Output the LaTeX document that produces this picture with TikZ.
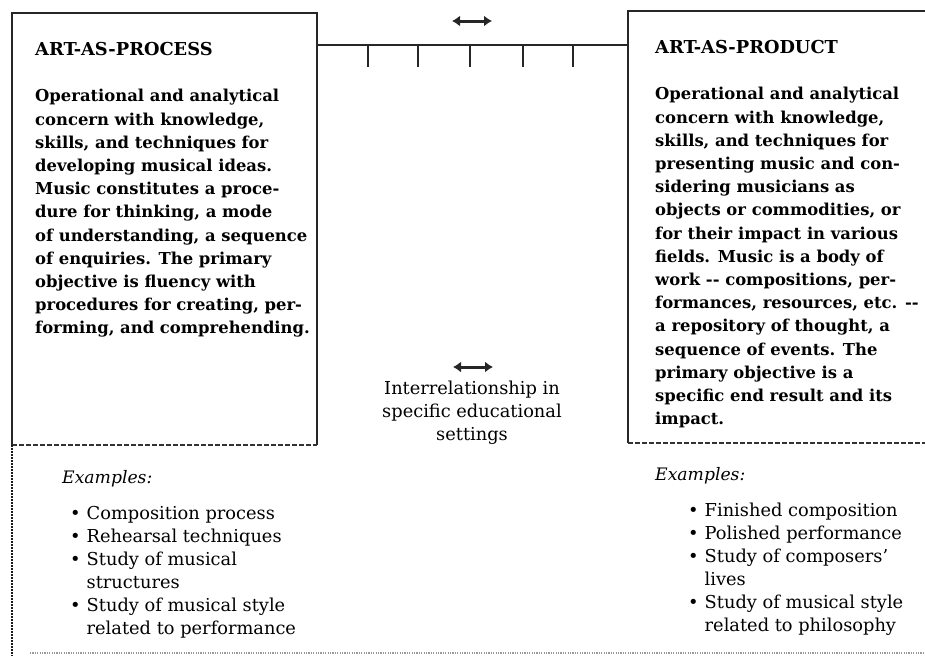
\documentclass[tikz,border=0pt]{standalone}
\usepackage{fontspec}
\setmainfont{DejaVu Serif}
\usetikzlibrary{arrows.meta}
\tikzset{
  frame/.style={line width=1.7pt, black!85},
  dashedge/.style={line width=1.5pt, black!80, dash pattern=on 5pt off 2pt},
  dotedge/.style={line width=2.2pt, black!90, dash pattern=on 1.6pt off 1.4pt},
  faintdot/.style={line width=1.4pt, black!40, dash pattern=on 1.2pt off 1.2pt},
  link/.style={line width=1.6pt, black!85},
  tick/.style={line width=1.5pt, black!85},
  twoway/.style={line width=3pt, black!85, {Latex[length=8pt,width=11pt]}-{Latex[length=8pt,width=11pt]}},
  head/.style={inner sep=0pt, anchor=base west, font=\fontsize{17.8}{23.2}\selectfont\bfseries},
  body/.style={inner sep=0pt, anchor=north west, align=left, font=\fontsize{16.4}{23.2}\selectfont\bfseries},
  plain/.style={inner sep=0pt, align=left, font=\fontsize{17.8}{23}\selectfont},
  emph/.style={inner sep=0pt, anchor=base west, font=\fontsize{17.2}{23}\selectfont\itshape},
}
\newcommand{\itm}[1]{\makebox[16.5pt][l]{\textbullet}#1}
\newcommand{\cnt}[1]{\hspace*{16.5pt}#1}
\begin{document}
\begin{tikzpicture}[x=1pt, y=-1pt]
\useasboundingbox (0,0) rectangle (925,656);

% left frame (art as process)
\coordinate (pTL) at (12,13);
\coordinate (pTR) at (317,13);
\coordinate (pBL) at (12,445);
\coordinate (pBR) at (317,445);
\draw[frame] (pBL) -- (pTL) -- (pTR) -- (pBR);
\draw[dashedge] (pBL) -- (pBR);
\coordinate (pFoot) at (12,656);
\draw[dotedge] (pBL) -- (pFoot);

% right frame (art as product), open at the right side
\coordinate (qTL) at (628,11);
\coordinate (qTR) at (925,11);
\coordinate (qBL) at (628,443);
\coordinate (qBR) at (925,443);
\draw[frame] (qTR) -- (qTL) -- (qBL);
\draw[dashedge] (qBL) -- (qBR);

% faint dotted base line
\coordinate (baseL) at (30,653);
\coordinate (baseR) at (925,653);
\draw[faintdot] (baseL) -- (baseR);

% continuum between the two frames
\coordinate (cL) at (317,45);
\coordinate (cR) at (628,45);
\draw[link] (cL) -- (cR);
\foreach \t [count=\k] in {368,418,470,523,573} {
  \coordinate (tk\k) at (\t,45);
  \coordinate (tb\k) at (\t,67);
  \draw[tick] (tk\k) -- (tb\k);
}

% double arrows
\coordinate (a1) at (452,21);
\coordinate (a2) at (492,21);
\draw[twoway] (a1) -- (a2);
\coordinate (b1) at (453,367);
\coordinate (b2) at (493,367);
\draw[twoway] (b1) -- (b2);

% titles
\node[head] (ptitle) at (35,55) {ART-AS-PROCESS};
\node[head] (qtitle) at (655,53) {ART-AS-PRODUCT};

% descriptions
\node[body] (pbody) at (35,89.2) {Operational and analytical\\
concern with knowledge,\\
skills, and techniques for\\
developing musical ideas.\\
Music constitutes a proce-\\
dure for thinking, a mode\\
of understanding, a sequence\\
of enquiries. The primary\\
objective is fluency with\\
procedures for creating, per-\\
forming, and comprehending.};

\node[body] (qbody) at (655,87.2) {Operational and analytical\\
concern with knowledge,\\
skills, and techniques for\\
presenting music and con-\\
sidering musicians as\\
objects or commodities, or\\
for their impact in various\\
fields. Music is a body of\\
work -{}- compositions, per-\\
formances, resources, etc. -{}-\\
a repository of thought, a\\
sequence of events. The\\
primary objective is a\\
specific end result and its\\
impact.};

% middle caption
\node[plain, align=center, anchor=north] (mid) at (472,380.5) {Interrelationship in\\
specific educational\\
settings};

% examples
\node[emph] (pex) at (62,483) {Examples:};
\node[plain, anchor=north west] (plist) at (70,506.5) {\itm{Composition process}\\
\itm{Rehearsal techniques}\\
\itm{Study of musical}\\
\cnt{structures}\\
\itm{Study of musical style}\\
\cnt{related to performance}};

\node[emph] (qex) at (655,480) {Examples:};
\node[plain, anchor=north west] (qlist) at (688,502.5) {\itm{Finished composition}\\
\itm{Polished performance}\\
\itm{Study of composers'}\\
\cnt{lives}\\
\itm{Study of musical style}\\
\cnt{related to philosophy}};
\end{tikzpicture}
\end{document}
